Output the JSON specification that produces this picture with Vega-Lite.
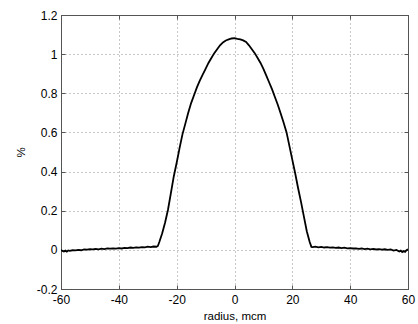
{
  "$schema": "https://vega.github.io/schema/vega-lite/v6.json",
  "width": 347,
  "height": 274,
  "autosize": {"type": "none"},
  "padding": {"left": 61, "top": 15, "right": 10, "bottom": 35},
  "background": "white",
  "config": {
    "view": {"stroke": "#555555", "strokeWidth": 1},
    "axis": {
      "labelFont": "Liberation Sans",
      "titleFont": "Liberation Sans",
      "labelFontSize": 12,
      "titleFontSize": 11.5,
      "labelColor": "black",
      "titleColor": "black",
      "titleFontWeight": "normal",
      "domainColor": "#555555",
      "tickColor": "#555555",
      "gridColor": "#777777",
      "gridDash": [1, 3],
      "gridWidth": 1,
      "gridOpacity": 0.8
    }
  },
  "data": {"values": [
    {"r": -60, "p": 0.000}, {"r": -59.5, "p": -0.006}, {"r": -59, "p": -0.008}, {"r": -58.5, "p": -0.004},
    {"r": -58, "p": -0.009}, {"r": -57.5, "p": -0.003}, {"r": -57, "p": -0.005}, {"r": -56, "p": -0.002},
    {"r": -55, "p": -0.003}, {"r": -54, "p": 0.000}, {"r": -53, "p": -0.002}, {"r": -52, "p": 0.002},
    {"r": -51, "p": 0.001}, {"r": -50, "p": 0.003}, {"r": -49, "p": 0.002}, {"r": -48, "p": 0.005},
    {"r": -47, "p": 0.003}, {"r": -46, "p": 0.006}, {"r": -45, "p": 0.004}, {"r": -44, "p": 0.007},
    {"r": -43, "p": 0.006}, {"r": -42, "p": 0.008}, {"r": -41, "p": 0.006}, {"r": -40, "p": 0.009},
    {"r": -39, "p": 0.007}, {"r": -38, "p": 0.010}, {"r": -37, "p": 0.009}, {"r": -36, "p": 0.012},
    {"r": -35, "p": 0.010}, {"r": -34, "p": 0.013}, {"r": -33, "p": 0.011}, {"r": -32, "p": 0.014},
    {"r": -31, "p": 0.013}, {"r": -30, "p": 0.016}, {"r": -29, "p": 0.014}, {"r": -28, "p": 0.017},
    {"r": -27, "p": 0.016}, {"r": -26.5, "p": 0.02}, {"r": -26, "p": 0.04}, {"r": -25, "p": 0.085},
    {"r": -24, "p": 0.14}, {"r": -23, "p": 0.205}, {"r": -22, "p": 0.29}, {"r": -21, "p": 0.375},
    {"r": -20, "p": 0.445}, {"r": -19, "p": 0.52}, {"r": -18, "p": 0.59}, {"r": -17, "p": 0.645},
    {"r": -16, "p": 0.70}, {"r": -15, "p": 0.75}, {"r": -14, "p": 0.79}, {"r": -13, "p": 0.83},
    {"r": -12, "p": 0.865}, {"r": -11, "p": 0.895}, {"r": -10, "p": 0.925}, {"r": -9, "p": 0.955},
    {"r": -8, "p": 0.98}, {"r": -7, "p": 1.005}, {"r": -6, "p": 1.025}, {"r": -5, "p": 1.045},
    {"r": -4, "p": 1.06}, {"r": -3, "p": 1.07}, {"r": -2, "p": 1.075}, {"r": -1, "p": 1.08},
    {"r": 0, "p": 1.082}, {"r": 1, "p": 1.078}, {"r": 2, "p": 1.075}, {"r": 3, "p": 1.07},
    {"r": 4, "p": 1.062}, {"r": 5, "p": 1.045}, {"r": 6, "p": 1.025}, {"r": 7, "p": 1.005},
    {"r": 8, "p": 0.98}, {"r": 9, "p": 0.955}, {"r": 10, "p": 0.925}, {"r": 11, "p": 0.89},
    {"r": 12, "p": 0.855}, {"r": 13, "p": 0.82}, {"r": 14, "p": 0.78}, {"r": 15, "p": 0.74},
    {"r": 16, "p": 0.695}, {"r": 17, "p": 0.65}, {"r": 18, "p": 0.60}, {"r": 19, "p": 0.53},
    {"r": 20, "p": 0.46}, {"r": 21, "p": 0.39}, {"r": 22, "p": 0.315}, {"r": 23, "p": 0.245},
    {"r": 24, "p": 0.17}, {"r": 25, "p": 0.095}, {"r": 26, "p": 0.04}, {"r": 26.6, "p": 0.015},
    {"r": 27, "p": 0.014}, {"r": 28, "p": 0.016}, {"r": 29, "p": 0.013}, {"r": 30, "p": 0.015},
    {"r": 31, "p": 0.012}, {"r": 32, "p": 0.014}, {"r": 33, "p": 0.011}, {"r": 34, "p": 0.013},
    {"r": 35, "p": 0.010}, {"r": 36, "p": 0.012}, {"r": 37, "p": 0.009}, {"r": 38, "p": 0.011},
    {"r": 39, "p": 0.008}, {"r": 40, "p": 0.009}, {"r": 41, "p": 0.007}, {"r": 42, "p": 0.008},
    {"r": 43, "p": 0.005}, {"r": 44, "p": 0.007}, {"r": 45, "p": 0.004}, {"r": 46, "p": 0.006},
    {"r": 47, "p": 0.003}, {"r": 48, "p": 0.005}, {"r": 49, "p": 0.002}, {"r": 50, "p": 0.004},
    {"r": 51, "p": 0.001}, {"r": 52, "p": 0.003}, {"r": 53, "p": 0.000}, {"r": 54, "p": 0.002},
    {"r": 55, "p": -0.004}, {"r": 56, "p": 0.000}, {"r": 57, "p": -0.008}, {"r": 57.5, "p": -0.004},
    {"r": 58, "p": -0.011}, {"r": 58.5, "p": -0.006}, {"r": 59, "p": -0.010}, {"r": 59.5, "p": -0.002},
    {"r": 60, "p": 0.004}
  ]},
  "layer": [
    {
      "mark": {"type": "line", "color": "black", "strokeWidth": 1.8, "clip": true},
      "encoding": {
        "x": {"field": "r", "type": "quantitative",
              "scale": {"domain": [-60, 60], "nice": false, "zero": false},
              "axis": {"title": "radius, mcm", "values": [-60, -40, -20, 0, 20, 40, 60],
                       "labelExpr": "replace(format(datum.value, '~g'), '\u2212', '-')",
                       "tickSize": -4, "labelPadding": 9, "titlePadding": 5, "labelFlush": false, "labelOverlap": false}},
        "y": {"field": "p", "type": "quantitative",
              "scale": {"domain": [-0.2, 1.2], "nice": false, "zero": false},
              "axis": {"title": "%", "values": [-0.2, 0, 0.2, 0.4, 0.6, 0.8, 1, 1.2],
                       "labelExpr": "replace(format(datum.value, '~g'), '\u2212', '-')",
                       "tickSize": -4, "labelPadding": 8, "titlePadding": 10, "labelFlush": false, "labelOverlap": false}}
      }
    },
    {
      "mark": {"type": "line", "strokeOpacity": 0},
      "encoding": {
        "x": {"field": "r", "type": "quantitative",
              "axis": {"orient": "top", "labels": false, "title": null, "grid": false,
                       "values": [-60, -40, -20, 0, 20, 40, 60], "tickSize": -4}},
        "y": {"field": "p", "type": "quantitative",
              "axis": {"orient": "right", "labels": false, "title": null, "grid": false,
                       "values": [-0.2, 0, 0.2, 0.4, 0.6, 0.8, 1, 1.2], "tickSize": -4}}
      }
    }
  ],
  "resolve": {"axis": {"x": "independent", "y": "independent"}}
}
